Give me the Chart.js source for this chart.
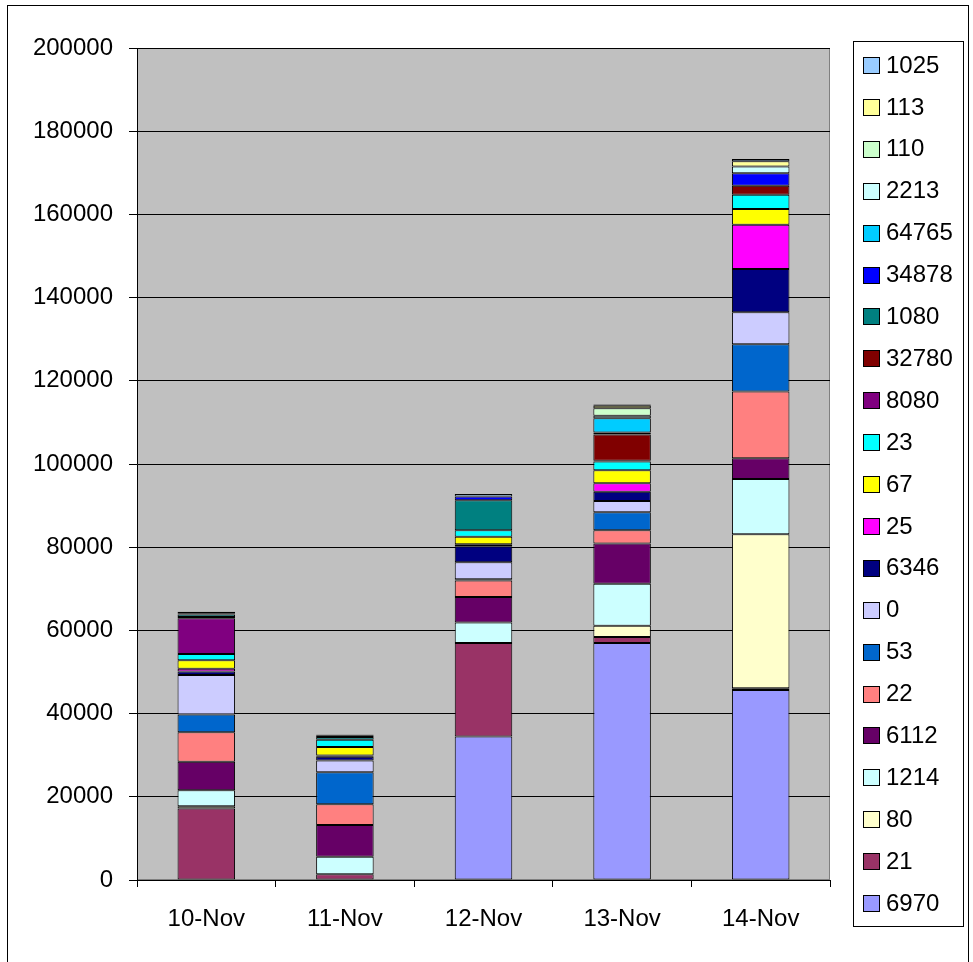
<!DOCTYPE html>
<html>
<head>
<meta charset="utf-8">
<script src="https://cdn.jsdelivr.net/npm/chart.js@4"></script>
<style>
  html, body { margin: 0; padding: 0; background: #fff; }
  #wrap { width: 973px; height: 962px; }
</style>
</head>
<body>
<div id="wrap"><canvas id="stackChart" width="973" height="962"></canvas></div>
<script>
// カテゴリ（日付）
const categories = ['10-Nov', '11-Nov', '12-Nov', '13-Nov', '14-Nov'];
// 系列名（下から積み上げ順）
const seriesNames = ['6970', '21', '80', '1214', '6112', '22', '53', '0', '6346', '25', '67', '23',
    '8080', '32780', '1080', '34878', '64765', '2213', '110', '113', '1025'];
// 系列ごとの値
const v6970  = [0, 0, 34500, 57000, 45700];
const v21    = [17200, 1400, 22500, 1400, 400];
const v80    = [500, 0, 0, 2700, 37000];
const v1214  = [3900, 4200, 4900, 10100, 13300];
const v6112  = [6800, 7600, 6100, 9700, 5000];
const v22    = [7100, 5000, 4000, 3200, 16000];
const v53    = [4300, 7700, 300, 4300, 11400];
const v0     = [9500, 2800, 4100, 2700, 7700];
const v6346  = [800, 900, 3800, 2200, 10400];
const v25    = [700, 300, 500, 2100, 10600];
const v67    = [2000, 2100, 1800, 3100, 3800];
const v23    = [1500, 1700, 1600, 2100, 3400];
const v8080  = [8600, 0, 0, 200, 0];
const v32780 = [300, 0, 0, 6300, 2200];
const v1080  = [600, 700, 7200, 500, 0];
const v34878 = [0, 0, 900, 0, 3000];
const v64765 = [0, 0, 0, 3400, 0];
const v2213  = [200, 300, 0, 600, 1600];
const v110   = [0, 200, 0, 1800, 0];
const v113   = [0, 0, 0, 600, 1300];
const v1025  = [500, 100, 600, 300, 500];
const seriesValues = [v6970, v21, v80, v1214, v6112, v22, v53, v0, v6346, v25, v67, v23,
    v8080, v32780, v1080, v34878, v64765, v2213, v110, v113, v1025];
// y軸目盛り
const yTicks = [0, 20000, 40000, 60000, 80000, 100000, 120000, 140000, 160000, 180000, 200000];

// 色（系列順）
const seriesColors = ['#9999FF', '#993366', '#FFFFCC', '#CCFFFF', '#660066', '#FF8080', '#0066CC',
    '#CCCCFF', '#000080', '#FF00FF', '#FFFF00', '#00FFFF', '#800080', '#800000', '#008080',
    '#0000FF', '#00CCFF', '#CCFFFF', '#CCFFCC', '#FFFF99', '#99CCFF'];

const FONT = '"Liberation Sans", Arial, sans-serif';
Chart.defaults.font.family = FONT;
Chart.defaults.font.size = 24;
Chart.defaults.color = '#000';

// 外枠とプロットエリア背景
const backgroundPlugin = {
    id: 'background',
    beforeDraw(chart) {
        const c = chart.ctx;
        const a = chart.chartArea;
        c.save();
        c.fillStyle = '#fff';
        c.fillRect(0, 0, chart.width, chart.height);
        c.strokeStyle = '#000';
        c.lineWidth = 1;
        c.strokeRect(7.5, 5.5, 961, 1000);
        c.fillStyle = '#C0C0C0';
        c.fillRect(a.left, a.top, a.right - a.left, a.bottom - a.top);
        c.strokeStyle = '#808080';
        c.strokeRect(a.left + 0.5, a.top + 0.5, a.right - a.left - 1, a.bottom - a.top - 1);
        c.restore();
    }
};

// 凡例（右側の枠付き、上から逆順）
const legendPlugin = {
    id: 'boxLegend',
    afterDraw(chart) {
        const c = chart.ctx;
        c.save();
        c.strokeStyle = '#000';
        c.lineWidth = 1;
        c.strokeRect(853.5, 41.5, 110, 885);
        c.font = '24px ' + FONT;
        c.textBaseline = 'middle';
        c.textAlign = 'left';
        const ds = chart.data.datasets;
        for (let i = 0; i < ds.length; i++) {
            const d = ds[ds.length - 1 - i];
            const y = 65 + i * 41.9;
            c.fillStyle = d.backgroundColor;
            c.fillRect(863, Math.round(y - 8), 16, 16);
            c.strokeStyle = '#000';
            c.strokeRect(863.5, Math.round(y - 8) + 0.5, 16, 16);
            c.fillStyle = '#000';
            c.fillText(d.label, 886, y + 1);
        }
        c.restore();
    }
};

const ctx = document.getElementById('stackChart').getContext('2d');
const stackChart = new Chart(ctx, {
    type: 'bar',
    data: {
        labels: categories,
        datasets: seriesNames.map((name, i) => ({
            label: name,
            data: seriesValues[i],
            backgroundColor: seriesColors[i],
            borderColor: '#000',
            borderWidth: 1,
            borderSkipped: false,
            categoryPercentage: 1,
            barPercentage: 0.415
        }))
    },
    options: {
        responsive: false,
        animation: false,
        layout: {
            padding: { left: 0, top: 48, right: 143, bottom: 32 }
        },
        plugins: {
            legend: { display: false },
            title: { display: false },
            tooltip: { enabled: false }
        },
        scales: {
            x: {
                stacked: true,
                offset: true,
                grid: {
                    offset: true,
                    drawOnChartArea: false,
                    color: '#000',
                    tickLength: 7
                },
                border: { color: '#000' },
                ticks: { padding: 18, font: { size: 24 }, maxRotation: 0 },
                afterFit: s => { s.height = 50; }
            },
            y: {
                stacked: true,
                min: 0,
                max: 200000,
                grid: { color: '#000', tickLength: 8 },
                border: { color: '#000' },
                afterBuildTicks: s => { s.ticks = yTicks.map(v => ({ value: v })); },
                ticks: { padding: 16, font: { size: 24 }, callback: v => String(v) },
                afterFit: s => { s.width = 137; }
            }
        }
    },
    plugins: [backgroundPlugin, legendPlugin]
});
</script>
</body>
</html>
